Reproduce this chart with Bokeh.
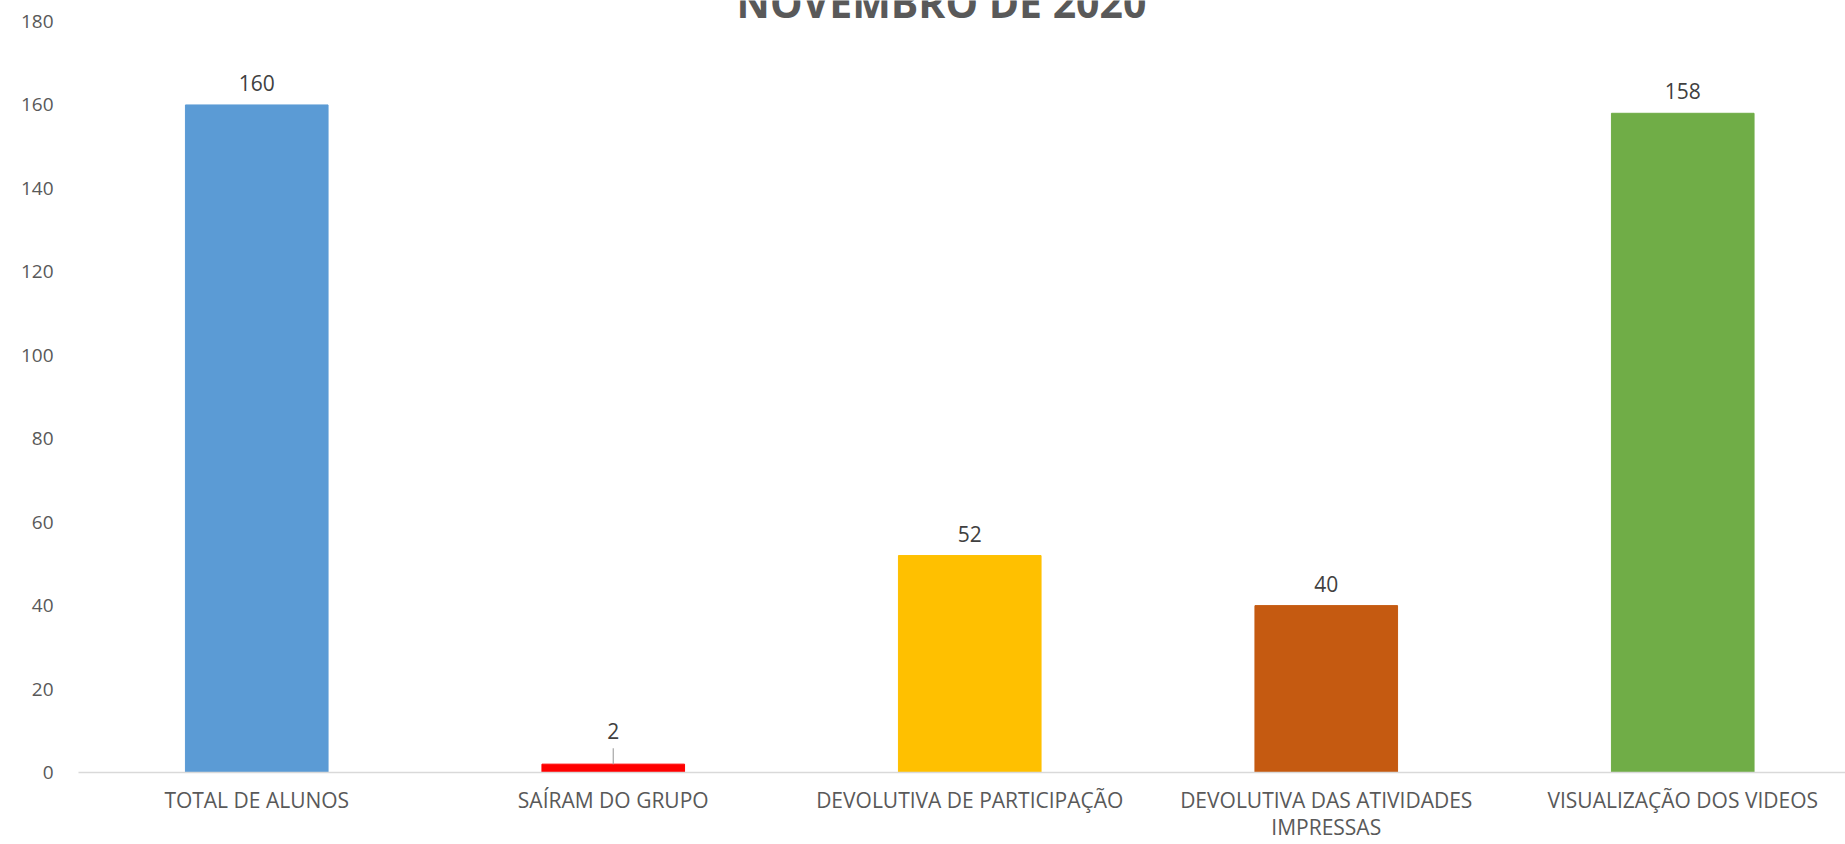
from bokeh.plotting import figure
from bokeh.models import Range1d, FixedTicker, Label, ColumnDataSource
from bokeh.embed import file_html
from bokeh.resources import INLINE

# ---- data ----
title_text = "NOVEMBRO DE 2020"
categories = ["TOTAL DE ALUNOS", "SAÍRAM DO GRUPO", "DEVOLUTIVA DE PARTICIPAÇÃO",
              "DEVOLUTIVA DAS ATIVIDADES\nIMPRESSAS", "VISUALIZAÇÃO DOS VIDEOS"]
values = [160, 2, 52, 40, 158]
colors = ["#5B9BD5", "#FF0000", "#FFC000", "#C55A11", "#70AD47"]
y_ticks = [0, 20, 40, 60, 80, 100, 120, 140, 160, 180]

# ---- layout ----
W, H = 1845, 844
left, bottom_px = 78, 72
frame_h = H - bottom_px          # frame from y=0 to y=772
px_per_unit = (frame_h - 21) / 180.0
y_end = frame_h / px_per_unit
cat_px = 356.5
x_end = (W - left) / cat_px

FONT = "Open Sans"

xs = [i + 0.5 for i in range(len(categories))]
src = ColumnDataSource(dict(x=xs, top=values, color=colors))

p = figure(width=W, height=H, output_backend="svg", toolbar_location=None,
           x_range=Range1d(0, x_end), y_range=Range1d(0, y_end),
           min_border_left=left, min_border_right=0, min_border_top=0,
           min_border_bottom=bottom_px, outline_line_color=None)

p.vbar(x="x", top="top", width=0.4, color="color", source=src)

# data labels
big = [i for i, v in enumerate(values) if v >= 10]
small = [i for i, v in enumerate(values) if v < 10]
src_big = ColumnDataSource(dict(x=[xs[i] for i in big], y=[values[i] for i in big],
                                t=[str(values[i]) for i in big]))
src_small = ColumnDataSource(dict(x=[xs[i] for i in small], y=[values[i] for i in small],
                                  t=[str(values[i]) for i in small]))
p.text(x="x", y="y", text="t", source=src_big, text_align="center",
       text_baseline="alphabetic", y_offset=-22, text_color="#404040",
       text_font_size="21px", text_font={"value": FONT})
p.text(x="x", y="y", text="t", source=src_small, text_align="center",
       text_baseline="alphabetic", y_offset=-33, text_color="#404040",
       text_font_size="21px", text_font={"value": FONT})
# leader line for small label
lead = 16 / px_per_unit
p.segment(x0=[xs[i] for i in small], y0=[values[i] for i in small],
          x1=[xs[i] for i in small], y1=[values[i] + lead for i in small],
          line_color="#A6A6A6", line_width=1.2)

# axes
p.xaxis.ticker = FixedTicker(ticks=xs)
p.xaxis.major_label_overrides = {x: c for x, c in zip(xs, categories)}
p.xaxis.axis_line_color = "#D9D9D9"
p.xaxis.axis_line_width = 1.5
p.xaxis.major_tick_line_color = None
p.xaxis.minor_tick_line_color = None
p.xaxis.major_tick_out = 0
p.xaxis.major_tick_in = 0
p.xaxis.major_label_text_font = FONT
p.xaxis.major_label_text_font_size = "21px"
p.xaxis.major_label_text_color = "#595959"
p.xaxis.major_label_text_line_height = 0.98
p.xaxis.major_label_standoff = 13

p.yaxis.ticker = FixedTicker(ticks=y_ticks)
p.yaxis.axis_line_color = None
p.yaxis.major_tick_line_color = None
p.yaxis.minor_tick_line_color = None
p.yaxis.major_tick_out = 0
p.yaxis.major_tick_in = 0
p.yaxis.major_label_text_font = FONT
p.yaxis.major_label_text_font_size = "19px"
p.yaxis.major_label_text_color = "#595959"
p.yaxis.major_label_standoff = 25

p.xgrid.grid_line_color = None
p.ygrid.grid_line_color = None

p.add_layout(Label(x=941 - left, y=180 + 20 / px_per_unit, x_units="screen", y_units="data",
                   text=title_text, text_align="center", text_baseline="alphabetic",
                   text_font=FONT, text_font_style="bold", text_font_size="41px",
                   text_color="#595959"))

open("out.html", "w").write(file_html(p, INLINE))
